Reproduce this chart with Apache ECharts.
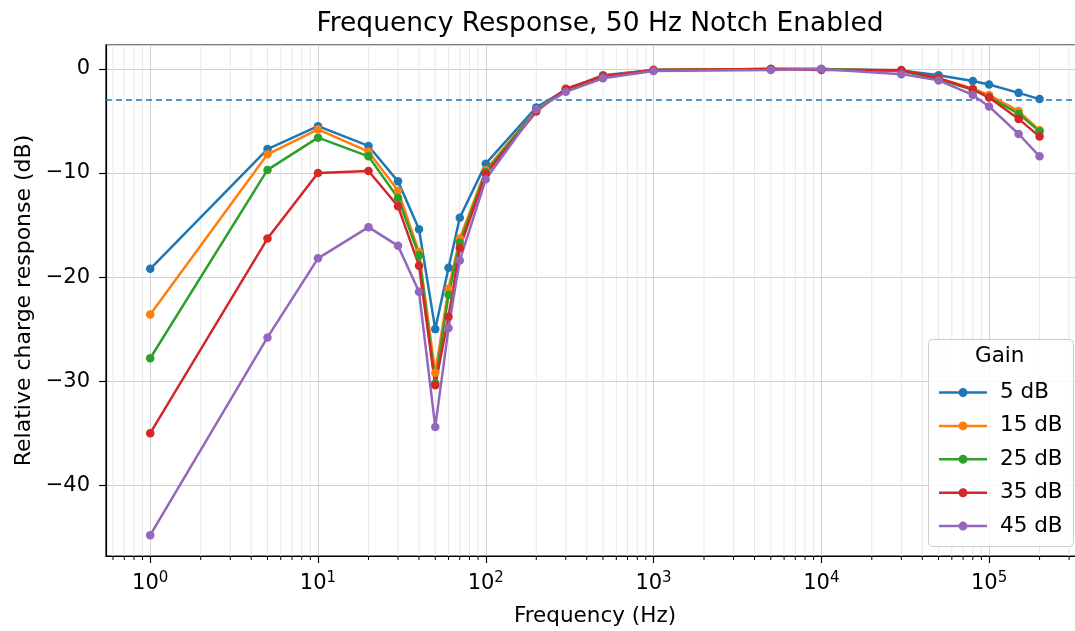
<!DOCTYPE html>
<html><head><meta charset="utf-8">
<script src="https://cdn.jsdelivr.net/npm/echarts@6/dist/echarts.min.js"></script>
<style>html,body{margin:0;padding:0;background:#fff}#c{width:1075px;height:631px}</style>
</head><body><div id="c"></div>
<script>
var freqs = [1, 5, 10, 20, 30, 40, 50, 60, 70, 100, 200, 300, 500, 1000, 5000, 10000, 30000, 50000, 80000, 100000, 150000, 200000];
var gain5  = [-19.2, -7.7, -5.5, -7.4, -10.8, -15.4, -25.0, -19.1, -14.3, -9.1, -3.7, -2.0, -0.6, -0.1, 0.0, 0.0, -0.15, -0.6, -1.15, -1.5, -2.3, -2.9];
var gain15 = [-23.6, -8.2, -5.8, -7.95, -11.7, -17.6, -29.2, -21.1, -16.3, -9.7, -3.9, -2.0, -0.7, -0.1, 0.0, 0.0, -0.2, -0.9, -1.9, -2.5, -4.05, -5.9];
var gain25 = [-27.8, -9.7, -6.6, -8.4, -12.4, -17.9, -30.2, -21.7, -16.7, -9.9, -3.9, -2.0, -0.8, -0.1, 0.0, 0.0, -0.2, -1.0, -2.0, -2.7, -4.3, -6.0];
var gain35 = [-35.0, -16.3, -10.0, -9.8, -13.2, -18.9, -30.4, -23.8, -17.2, -10.1, -4.1, -1.9, -0.7, -0.1, 0.0, -0.1, -0.1, -0.9, -1.95, -2.75, -4.8, -6.5];
var gain45 = [-44.8, -25.8, -18.2, -15.2, -17.0, -21.4, -34.4, -24.9, -18.4, -10.6, -3.9, -2.2, -0.9, -0.2, -0.1, 0.0, -0.5, -1.1, -2.5, -3.6, -6.25, -8.4];
var seriesNames = ['5 dB', '15 dB', '25 dB', '35 dB', '45 dB'];
var seriesData = [gain5, gain15, gain25, gain35, gain45];
var colors = ['#1f77b4', '#ff7f0e', '#2ca02c', '#d62728', '#9467bd'];
var xMin = 0.545, xMax = 368000, yMin = -46.8, yMax = 2.3;
var refLevel = -3;

var minorTicks = [];
for (var e = -1; e <= 5; e++) {
  for (var k = 2; k <= 9; k++) {
    var v = k * Math.pow(10, e);
    if (v > xMin && v < xMax) minorTicks.push(v);
  }
}

var FONT = 'DejaVu Sans';
var chart = echarts.init(document.getElementById('c'));
var series = seriesNames.map(function (n, i) {
  var s = {
    name: n, type: 'line', z: 5,
    data: freqs.map(function (f, j) { return [f, seriesData[i][j]]; }),
    symbol: 'circle', symbolSize: 8.5, showSymbol: true,
    lineStyle: { width: 2.5, color: colors[i] },
    itemStyle: { color: colors[i] },
    emphasis: { disabled: true }, animation: false
  };
  if (i === 0) {
    s.markLine = {
      silent: true, symbol: ['none', 'none'], label: { show: false },
      lineStyle: { type: [6, 4], width: 1.6, color: '#1f77b4' },
      data: [{ yAxis: refLevel }], animation: false
    };
  }
  return s;
});
series.unshift({
  type: 'custom', silent: true, z: 1, clip: false, animation: false,
  encode: { x: 0, y: 1 },
  data: minorTicks.map(function (v) { return [v, yMin]; }),
  renderItem: function (params, api) {
    var top = api.coord([api.value(0), yMax]);
    var bot = api.coord([api.value(0), yMin]);
    return {
      type: 'group', children: [
        { type: 'line', shape: { x1: top[0], y1: top[1], x2: bot[0], y2: bot[1] }, style: { stroke: '#e8e8e8', lineWidth: 1 } },
        { type: 'line', shape: { x1: bot[0], y1: bot[1], x2: bot[0], y2: bot[1] + 4 }, style: { stroke: '#000', lineWidth: 1 } }
      ]
    };
  }
});

var legendIcon = 'path://M0,3.25 L20,3.25 L20,5.75 L0,5.75 Z M28,3.25 L48,3.25 L48,5.75 L28,5.75 Z M19.5,4.5 A4.5,4.5 0 1,1 28.5,4.5 A4.5,4.5 0 1,1 19.5,4.5 Z';

chart.setOption({
  animation: false,
  color: colors,
  title: {
    text: 'Frequency Response, 50 Hz Notch Enabled', left: 595, top: 6, textAlign: 'center',
    textStyle: { fontFamily: FONT, fontSize: 26.5, fontWeight: 'normal', color: '#000' }
  },
  grid: { left: 106, width: 978, top: 45, height: 511, outerBoundsMode: 'none', containLabel: false,
    show: true, borderColor: '#000', borderWidth: 1.2, backgroundColor: 'transparent' },
  xAxis: {
    type: 'log', logBase: 10, min: xMin, max: xMax,
    name: 'Frequency (Hz)', nameLocation: 'middle', nameGap: 49,
    nameTextStyle: { fontFamily: FONT, fontSize: 21.5, color: '#000' },
    axisLine: { show: true, onZero: false, lineStyle: { color: '#000', width: 1.2 } },
    axisTick: { show: true, inside: false, length: 7, lineStyle: { color: '#000', width: 1.2 } },
    splitLine: { show: true, lineStyle: { color: '#d0d0d0', width: 1 } },
    axisLabel: {
      showMinLabel: false, showMaxLabel: false, margin: 15,
      formatter: function (v) {
        var n = Math.round(Math.log(v) / Math.LN10);
        return '{b|10}{s|' + n + '}';
      },
      rich: {
        b: { fontFamily: FONT, fontSize: 21, color: '#000', lineHeight: 26 },
        s: { fontFamily: FONT, fontSize: 15, color: '#000', verticalAlign: 'top', lineHeight: 26, padding: [0, 0, 9, 0] }
      }
    }
  },
  yAxis: {
    type: 'value', min: yMin, max: yMax,
    name: 'Relative charge response (dB)', nameLocation: 'middle', nameGap: 71, nameRotate: 90,
    nameTextStyle: { fontFamily: FONT, fontSize: 22, color: '#000' },
    axisLine: { show: true, onZero: false, lineStyle: { color: '#000', width: 1.2 } },
    axisTick: { show: true, inside: false, length: 7, lineStyle: { color: '#000', width: 1.2 } },
    splitLine: { show: true, lineStyle: { color: '#d0d0d0', width: 1 } },
    axisLabel: {
      showMinLabel: false, showMaxLabel: false, margin: 16,
      fontFamily: FONT, fontSize: 21, color: '#000',
      formatter: function (v) { return v < 0 ? '\u2212' + Math.abs(v) : String(v); }
    }
  },
  graphic: [
    { type: 'rect', z: 50, left: 928, top: 339, shape: { width: 145, height: 207, r: 4 },
      style: { fill: 'rgba(255,255,255,0.85)', stroke: '#cccccc', lineWidth: 1 } },
    { type: 'text', z: 51, left: 975, top: 345,
      style: { text: 'Gain', fontFamily: FONT, fontSize: 21.5, fill: '#000' } }
  ],
  legend: {
    z: 60, orient: 'vertical', left: 934, top: 375, itemGap: 8.4,
    itemWidth: 48, itemHeight: 9, selectedMode: false,
    itemStyle: { borderWidth: 0 },
    textStyle: { fontFamily: FONT, fontSize: 21.5, color: '#000', padding: [0, 0, 0, 8], lineHeight: 25 },
    data: seriesNames.map(function (n) { return { name: n, icon: legendIcon }; })
  },
  series: series
});
</script></body></html>
